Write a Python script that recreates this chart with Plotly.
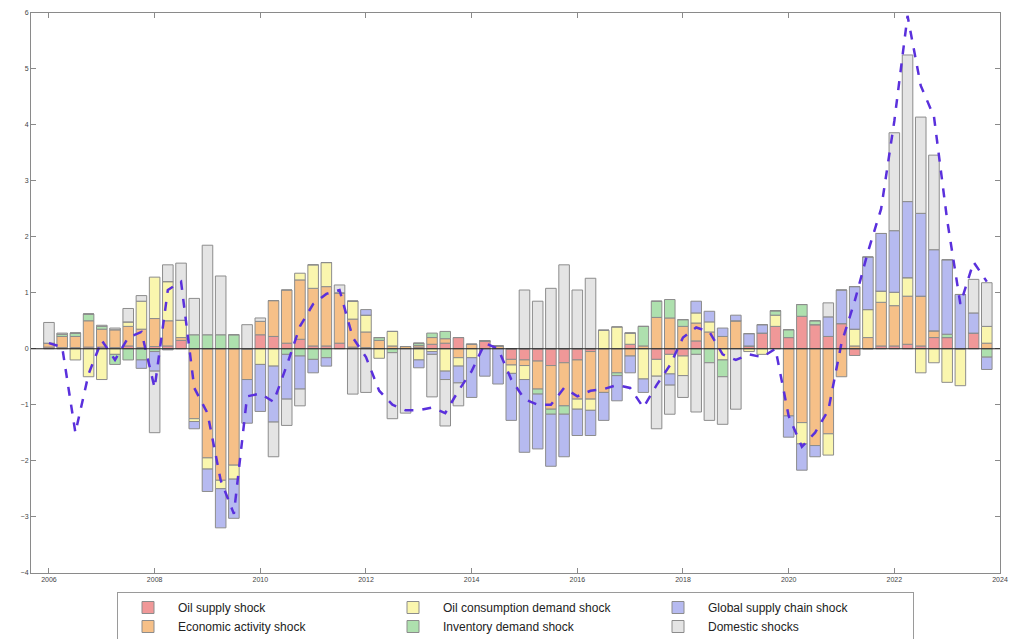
import plotly.graph_objects as go

# Quarterly dates 2006Q1 .. 2023Q4
quarters = [2006 + 0.25 * k for k in range(72)]

oil_supply = [0.03, 0.02, 0.02, 0.03, 0.03, 0.02, 0.05, 0.02, 0.04, 0.05, 0.15, 0,
              0, 0, 0, 0, 0.25, 0.22, 0.10, 0.17, 0.05, 0.05, 0.10, 0.03,
              0.02, 0, 0, 0, 0.03, 0.08, 0.10, 0.20, 0, 0.14, 0, -0.19,
              -0.20, -0.22, -0.30, -0.25, -0.20, -0.05, 0, 0, 0.08, 0, -0.19, -0.10,
              -0.13, 0.14, 0, 0, 0, 0.05, 0.28, 0.40, 0.20, 0.58, 0.43, 0.22,
              0.45, -0.12, 0, 0.05, 0.05, 0.08, 0.05, 0.20, 0.20, 0, 0.28, 0]
economic_activity = [0.07, 0.20, 0.20, 0.47, 0.32, 0.32, 0.35, 0.33, 0.50, 0.45, 0.05, -1.25,
                     -1.95, -2.35, -2.08, -0.55, 0.24, 0.64, 0.95, 1.06, 1.03, 1.06, 0.90, 0.50,
                     0.28, 0.15, 0.05, 0.04, 0.03, 0.12, 0.08, -0.16, 0.08, 0, 0.05, -0.10,
                     -0.10, -0.50, -0.78, -0.77, -0.70, -0.85, -0.78, -0.43, -0.13, 0.05, 0.56, 0.55,
                     0.40, 0.32, 0.30, 0.22, 0.50, 0, 0, 0, -1.20, -1.32, -1.73, -1.52,
                     -0.50, 0.05, 0.20, 0.78, 0.72, 0.86, 0.89, 0.12, 0, 0, 0, 0.10]
oil_consumption = [0, 0, -0.20, -0.50, -0.55, -0.10, 0.08, 0.50, 0.74, 0.70, 0.31, -0.05,
                   -0.20, -0.15, -0.25, 0, -0.28, -0.31, 0, 0.12, 0.42, 0.43, 0, 0.32,
                   0.30, -0.17, 0.26, 0, -0.20, -0.05, -0.40, -0.15, -0.16, 0, 0, -0.15,
                   -0.25, 0, 0, 0, -0.18, -0.20, 0.33, 0.39, 0.20, -0.54, -0.30, -0.35,
                   -0.35, 0.18, 0.18, -0.20, 0, -0.05, -0.10, 0.20, 0, -0.38, 0, -0.38,
                   0, 0.30, 0.50, 0.20, 0.24, 0.33, -0.43, -0.25, -0.60, -0.66, 0, 0.30]
inventory_demand = [0, 0.04, 0.06, 0.12, 0.05, -0.18, -0.20, -0.20, -0.05, 0, 0, 0.25,
                    0.25, 0.25, 0.25, 0, 0, 0, -0.10, -0.13, -0.19, -0.16, 0, 0,
                    0, 0.05, -0.07, 0, 0.04, 0.08, 0.13, 0, 0, 0, 0, 0,
                    0, -0.09, -0.09, -0.15, 0, 0, 0, -0.05, 0, 0.35, 0.29, 0.33,
                    0.12, -0.10, -0.25, -0.30, 0, 0, 0, 0.08, 0.14, 0.21, 0.07, 0,
                    0, 0, 0, 0, 0, 0, 0, 0, 0.06, 0, 0, -0.15]
global_supply_chain = [0, 0, 0, 0, 0, 0, 0, -0.15, -0.35, -0.02, 0, -0.13,
                       -0.40, -0.70, -0.70, -0.78, -0.84, -1.00, -0.80, -0.59, -0.24, -0.15, 0, 0,
                       0.10, 0, 0, 0, -0.14, -0.05, -0.15, -0.30, -0.71, -0.49, -0.63, -0.84,
                       -1.30, -0.98, -0.93, -0.76, -0.47, -0.45, -0.50, -0.45, -0.30, -0.24, 0, -0.20,
                       0, 0.21, 0.19, 0.15, 0.10, 0.22, 0.15, 0, -0.38, -0.47, -0.20, 0.35,
                       0.60, 0.76, 0.94, 1.03, 1.10, 1.36, 1.48, 1.45, 1.33, 0.97, 0.36, -0.22]
domestic = [0.37, 0.02, 0, 0, 0.02, 0.03, 0.24, 0.10, -1.10, 0.30, 1.02, 0.65,
            1.60, 1.05, 0, 0.43, 0.06, -0.62, -0.47, -0.30, 0, 0, 0.14, -0.81,
            -0.78, 0, -1.18, -1.15, 0, -0.76, -0.83, -0.41, 0, 0, 0, 0,
            1.05, 0.85, 1.08, 1.50, 1.05, 1.26, 0, 0, 0, 0, -0.94, -0.52,
            -0.39, -1.03, -1.03, -0.85, -1.08, 0, 0, 0, 0, 0, 0, 0.25,
            0, 0, 0, 0, 1.75, 2.62, 1.72, 1.69, 0, 0, 0.60, 0.78]
total = [0.10, 0.03, -1.50, -0.45, 0.15, -0.20, 0.20, 0.30, -0.70, 1.05, 1.20, -0.70,
         -1.15, -2.35, -2.95, -0.85, -0.80, -0.95, -0.30, 0.40, 0.80, 0.98, 1.05, 0.20,
         -0.15, -0.75, -1.00, -1.10, -1.10, -1.05, -1.15, -0.75, -0.40, 0.10, 0.00, -0.55,
         -0.90, -1.00, -1.00, -0.70, -0.85, -0.75, -0.72, -0.65, -0.70, -1.05, -0.65, -0.30,
         0.20, 0.38, 0.30, -0.10, -0.20, -0.10, -0.15, 0.00, -1.20, -1.75, -1.50, -1.10,
         0.10, 0.85, 1.73, 2.50, 4.07, 5.95, 4.70, 4.15, 2.30, 0.80, 1.55, 1.20]

series = [
    ("Oil supply shock", oil_supply, "#F09898", 1),
    ("Economic activity shock", economic_activity, "#F6C088", 4),
    ("Oil consumption demand shock", oil_consumption, "#FAF6AE", 2),
    ("Inventory demand shock", inventory_demand, "#AEE0AE", 5),
    ("Global supply chain shock", global_supply_chain, "#B6BAF0", 3),
    ("Domestic shocks", domestic, "#E4E4E4", 6),
]

fig = go.Figure()
for name, vals, color, rank in series:
    fig.add_trace(go.Bar(
        x=quarters, y=vals, name=name, width=0.2,
        marker=dict(color=color, line=dict(color="#8C8C8C", width=1)),
        legendrank=rank,
    ))

fig.add_trace(go.Scatter(
    x=quarters, y=total, mode="lines", showlegend=False,
    line=dict(color="#5A30DC", width=2.5, dash="dash"),
))

fig.add_shape(type="line", xref="paper", x0=0, x1=1, yref="y", y0=0, y1=0,
              line=dict(color="#222222", width=1), layer="above")

axis_common = dict(
    showline=True, linecolor="#8A8A8A", linewidth=1, mirror="ticks",
    ticks="inside", ticklen=5, tickcolor="#8A8A8A", showgrid=False,
    zeroline=False, tickfont=dict(size=7, color="#444444"),
)

fig.update_layout(
    width=1018, height=639,
    margin=dict(l=31, r=18, t=9, b=66),
    barmode="relative",
    plot_bgcolor="white", paper_bgcolor="white",
    font=dict(family="Liberation Sans, Arial, sans-serif", color="#222222"),
    xaxis=dict(range=[2005.66, 2024], tickvals=list(range(2006, 2025, 2)), **axis_common),
    yaxis=dict(range=[-4, 6], tickvals=list(range(-4, 7)), **axis_common),
    legend=dict(
        orientation="h", xref="paper", x=0.5, xanchor="center",
        yref="container", y=(639 - 592) / 639, yanchor="top",
        bordercolor="#9A9A9A", borderwidth=1, font=dict(size=12),
        entrywidth=200, traceorder="normal", tracegroupgap=0,
        itemwidth=50,
    ),
)

fig.write_html("out.html")
